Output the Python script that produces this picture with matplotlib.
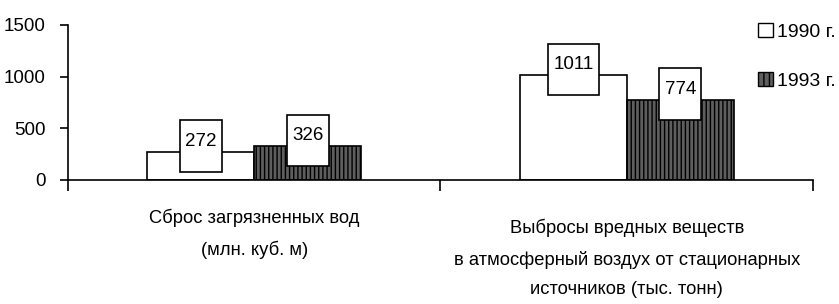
import matplotlib
matplotlib.use("Agg")
import matplotlib.pyplot as plt
from matplotlib.patches import Patch
from matplotlib.path import Path

plt.rcParams['font.family'] = ['Liberation Sans Narrow', 'Liberation Sans', 'DejaVu Sans']
plt.rcParams['hatch.linewidth'] = 1.0

# data
categories = ["Сброс загрязненных вод\n(млн. куб. м)",
              "Выбросы вредных веществ\nв атмосферный воздух от стационарных\nисточников (тыс. тонн)"]
years = ["1990 г.", "1993 г."]
values_1990 = [272, 1011]
values_1993 = [326, 774]


def tall_box(x0, y0, width, height, mutation_size):
    # label box: a little side padding, lots above/below like the Excel original
    px = 0.29 * mutation_size
    top = 0.68 * mutation_size
    bot = 1.16 * mutation_size
    xa, xb = x0 - px, x0 + width + px
    ya, yb = y0 - bot, y0 + height + top
    return Path([(xa, ya), (xb, ya), (xb, yb), (xa, yb), (xa, ya)], closed=True)


fig = plt.figure(figsize=(8.39, 3.04), dpi=100)
ax = fig.add_axes([0.081, 0.408, 0.888, 0.51])

w = 0.287
x = [0, 1]
b1 = ax.bar([i - w / 2 for i in x], values_1990, w, color='white', edgecolor='black', linewidth=1.2)
b2 = ax.bar([i + w / 2 for i in x], values_1993, w, color='#5e5e5e', edgecolor='black', linewidth=1.2, hatch='||||')

for bars, vals in ((b1, values_1990), (b2, values_1993)):
    for rect, v in zip(bars, vals):
        ax.annotate(str(v), (rect.get_x() + rect.get_width() / 2, v),
                    xytext=(0, 10.5), textcoords='offset pixels',
                    ha='center', va='center', fontsize=13.5,
                    bbox=dict(boxstyle=tall_box, fc='white', ec='black', lw=1.2))

ax.set_xlim(-0.5, 1.5)
ax.set_ylim(0, 1500)
ax.set_yticks([0, 500, 1000, 1500])
ax.tick_params(axis='y', labelsize=13.5, length=6, width=1.2, pad=10)
ax.set_xticks([-0.5, 0.5, 1.5])
ax.set_xticklabels([])
ax.tick_params(axis='x', which='major', length=8, width=1.2)

# category captions under the axis
for xi, lab, off in zip(x, categories, (-29, -39)):
    ax.annotate(lab, (xi, 0), xycoords=('data', 'axes fraction'),
                xytext=(0, off), textcoords='offset pixels',
                ha='center', va='top', fontsize=13.2, linespacing=1.95)

for s in ('top', 'right'):
    ax.spines[s].set_visible(False)
for s in ('left', 'bottom'):
    ax.spines[s].set_linewidth(1.2)

handles = [Patch(facecolor='white', edgecolor='black', label=years[0]),
           Patch(facecolor='#5e5e5e', edgecolor='black', hatch='|||', label=years[1])]
fig.legend(handles=handles, loc='upper right', bbox_to_anchor=(1.005, 0.95), frameon=False,
           fontsize=14, handlelength=0.75, handleheight=0.75, handletextpad=0.2,
           labelspacing=1.6, borderaxespad=0)

fig.savefig('out.png', dpi=100)
